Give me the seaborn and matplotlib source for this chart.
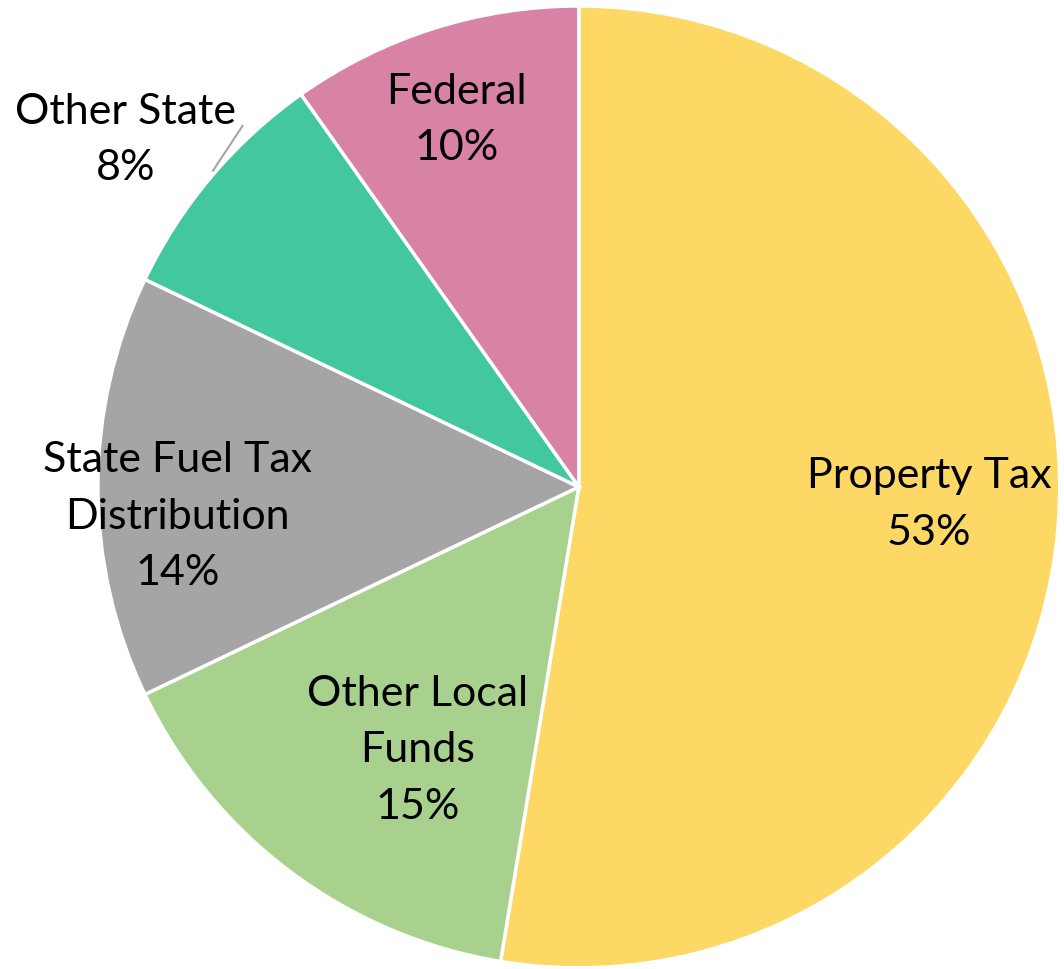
import numpy as np
import matplotlib
matplotlib.use("Agg")
import matplotlib.pyplot as plt
import seaborn as sns

categories = ["Property Tax", "Other Local\nFunds", "State Fuel Tax\nDistribution", "Other State", "Federal"]
values = [52.6, 15.3, 14.2, 8.1, 9.8]
pct_labels = ["53%", "15%", "14%", "8%", "10%"]
colors = ["#FDD865", "#A9D18E", "#A5A5A5", "#43C79F", "#D883A5"]
label_xy = [(0.728, -0.035), (-0.335, -0.546), (-0.834, -0.060), (-0.943, 0.723), (-0.254, 0.765)]

sns.set_theme(style="white")
plt.rcParams['font.family'] = ['Lato', 'DejaVu Sans']

fig = plt.figure(figsize=(10.64, 9.70), dpi=100)
ax = fig.add_axes([0.092, 0.001, 0.904, 0.992])
wedges, _ = ax.pie(values, colors=colors, startangle=90, counterclock=False,
                   wedgeprops=dict(edgecolor="white", linewidth=2.5))
ax.set_xlim(-1, 1)
ax.set_ylim(-1, 1)
ax.set_aspect("equal")
ax.axis("off")

for cat, pct, (x, y) in zip(categories, pct_labels, label_xy):
    ax.text(x, y, f"{cat}\n{pct}", ha="center", va="center", fontsize=31,
            linespacing=1.6, color="black")

# leader line for Other State label
lx, ly = label_xy[3]
ax.plot([lx + 0.244, lx + 0.182], [ly + 0.028, ly - 0.066], color="#A5A5A5", lw=1.5)

fig.savefig("out.png", dpi=100)
